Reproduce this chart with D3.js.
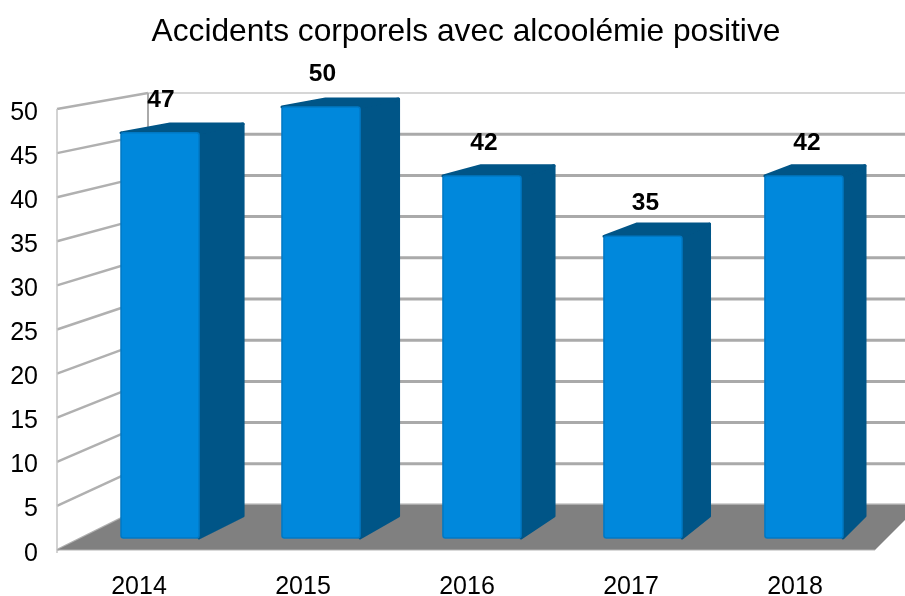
<!DOCTYPE html>
<html>
<head>
<meta charset="utf-8">
<script src="https://cdn.jsdelivr.net/npm/d3@7"></script>
<style>
  html, body { margin: 0; padding: 0; background: #fff; }
  svg { display: block; }
  text { font-family: "Liberation Sans", Arial, sans-serif; fill: #000; }
</style>
</head>
<body>
<svg id="chart" width="905" height="596"></svg>
<script>
var title = "Accidents corporels avec alcoolémie positive";
var years = ["2014", "2015", "2016", "2017", "2018"];
var accidents = [47, 50, 42, 35, 42];
var yTicks = [0, 5, 10, 15, 20, 25, 30, 35, 40, 45, 50];

var svg = d3.select("#chart");

// front and back planes of the fake 3d box
var wallFront = d3.scaleLinear().domain([0, 50]).range([550, 109]);
var wallBack = d3.scaleLinear().domain([0, 50]).range([505, 93]);
var barFront = d3.scaleLinear().domain([0, 50]).range([538, 107]);
var barBack = d3.scaleLinear().domain([0, 50]).range([516, 99]);

var xLabel = d3.scaleBand().domain(years).range([57, 877]);
var xFront = d3.scaleBand().domain(years).range([121, 843]).paddingInner(0.515).paddingOuter(0);
var xBack = d3.scaleBand().domain(years).range([170, 865]).paddingInner(0.53).paddingOuter(0);
var xValue = d3.scaleBand().domain(years).range([80.25, 887.75]);

var line = d3.line();
var defs = svg.append("defs");
defs.append("filter").attr("id", "soft").append("feGaussianBlur").attr("stdDeviation", 0.5);
defs.append("filter").attr("id", "softText").append("feGaussianBlur").attr("stdDeviation", 0.3);

var plot = svg.append("g").attr("filter", "url(#soft)");

// back wall lines
plot.selectAll("line.back").data(yTicks).enter().append("line")
  .attr("x1", 148).attr("x2", 905)
  .attr("y1", function(d) { return wallBack(d); })
  .attr("y2", function(d) { return wallBack(d); })
  .attr("stroke", function(d) { return d == 50 ? "#c8c8c8" : "#aaaaaa"; })
  .attr("stroke-width", function(d) { return d == 50 ? 1.5 : 3; });

// side wall lines
plot.selectAll("line.side").data(yTicks).enter().append("line")
  .attr("x1", 57).attr("x2", 148)
  .attr("y1", function(d) { return wallFront(d); })
  .attr("y2", function(d) { return wallBack(d); })
  .attr("stroke", "#b0b0b0")
  .attr("stroke-width", 2.5);

plot.append("line").attr("x1", 57).attr("x2", 57)
  .attr("y1", wallFront(50)).attr("y2", wallFront(0) + 3)
  .attr("stroke", "#c4c4c4").attr("stroke-width", 1.5);
plot.append("line").attr("x1", 148).attr("x2", 148)
  .attr("y1", wallBack(50)).attr("y2", wallBack(0))
  .attr("stroke", "#aaaaaa").attr("stroke-width", 2);

// floor
plot.append("path")
  .attr("d", line([[57, wallFront(0)], [875, wallFront(0)], [920, wallBack(0)], [148, wallBack(0)]]) + "Z")
  .attr("fill", "#808080");
plot.append("line").attr("x1", 57).attr("x2", 875)
  .attr("y1", wallFront(0)).attr("y2", wallFront(0))
  .attr("stroke", "#b3b3b3").attr("stroke-width", 1);

var bars = plot.selectAll("g.bar").data(years).enter().append("g").attr("class", "bar");

function fx(y) { return xFront(y); }
function bx(y) { return xBack(y); }
function val(y) { return accidents[years.indexOf(y)]; }

// side face
bars.append("path")
  .attr("d", function(y) {
    var r = fx(y) + xFront.bandwidth(), b = bx(y) + xBack.bandwidth();
    return line([[r, barFront(0)], [b, barBack(0)], [b, barBack(val(y))], [r, barFront(val(y))]]) + "Z";
  })
  .attr("fill", "#005587").attr("stroke", "#005587").attr("stroke-width", 3).attr("stroke-linejoin", "round");

// top face
bars.append("path")
  .attr("d", function(y) {
    var l = fx(y), r = l + xFront.bandwidth(), bl = bx(y), b = bl + xBack.bandwidth();
    return line([[l, barFront(val(y))], [bl, barBack(val(y))], [b, barBack(val(y))], [r, barFront(val(y))]]) + "Z";
  })
  .attr("fill", "#005587").attr("stroke", "#005587").attr("stroke-width", 3).attr("stroke-linejoin", "round");

// front face
bars.append("rect")
  .attr("x", fx)
  .attr("y", function(y) { return barFront(val(y)); })
  .attr("width", xFront.bandwidth())
  .attr("height", function(y) { return barFront(0) - barFront(val(y)); })
  .attr("rx", 2.5)
  .attr("fill", "#0088dc").attr("stroke", "#0078c4").attr("stroke-width", 1.5);

// texts
var labels = svg.append("g").attr("filter", "url(#softText)");

labels.append("text").attr("x", 466).attr("y", 41)
  .attr("text-anchor", "middle").attr("font-size", 31.7).text(title);

labels.selectAll("text.ytick").data(yTicks).enter().append("text")
  .attr("x", 38).attr("text-anchor", "end").attr("font-size", 25)
  .attr("y", function(d) { return wallFront(d) + 10.5; })
  .text(function(d) { return d; });

labels.selectAll("text.xtick").data(years).enter().append("text")
  .attr("x", function(y) { return xLabel(y) + xLabel.bandwidth() / 2; })
  .attr("y", 594).attr("text-anchor", "middle").attr("font-size", 25)
  .text(function(y) { return y; });

labels.selectAll("text.value").data(years).enter().append("text")
  .attr("x", function(y) { return xValue(y) + xValue.bandwidth() / 2; })
  .attr("y", function(y) { return barFront(val(y)) - 26; })
  .attr("text-anchor", "middle").attr("font-size", 24.5).attr("font-weight", "bold")
  .text(val);
</script>
</body>
</html>
